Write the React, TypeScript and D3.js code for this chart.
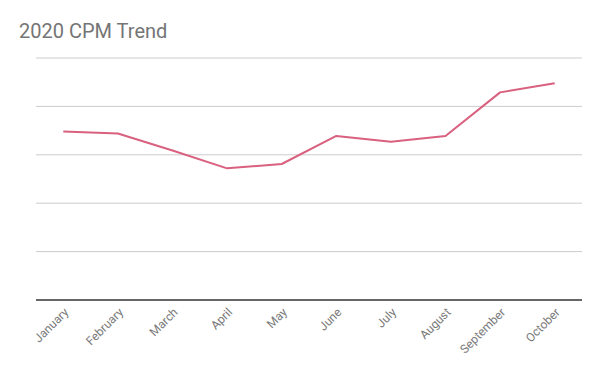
import React from "react";
import * as d3 from "d3";

const months = ["January","February","March","April","May","June","July","August","September","October"];
const cpm = [3.48, 3.44, 3.09, 2.72, 2.81, 3.39, 3.27, 3.39, 4.29, 4.48];
const yTicks = [0, 1, 2, 3, 4, 5];
const title = "2020 CPM Trend";

const W = 600, H = 371;
const M = { left: 36, right: 18, top: 58, bottom: 71 };

export default function App() {
  const x = d3.scalePoint<string>().domain(months).range([M.left, W - M.right]).padding(0.5);
  const y = d3.scaleLinear().domain([0, 5]).range([H - M.bottom, M.top]);
  const line = d3.line<number>().x((_, i) => x(months[i]) as number).y(d => y(d));
  return (
    <svg width={W} height={H} style={{ position: "absolute", left: 0, top: 0, background: "#fff" }} fontFamily="Roboto, sans-serif">
      <text x={19} y={38} fontSize={20} fill="#757575">{title}</text>
      {yTicks.slice(1).map(t => (
        <line key={t} x1={M.left} x2={W - M.right} y1={y(t)} y2={y(t)} stroke="#cccccc" strokeWidth={1} />
      ))}
      <line x1={M.left} x2={W - M.right} y1={y(0)} y2={y(0)} stroke="#333" strokeWidth={1.3} />
      <path d={line(cpm) || ""} fill="none" stroke="#d9607f" strokeWidth={2} strokeLinejoin="round" />
      {months.map(m => (
        <text key={m} transform={`translate(${(x(m) as number) + 6},${y(0) + 13}) rotate(-45)`} textAnchor="end" fontSize={12} fill="#7a7a7a">{m}</text>
      ))}
    </svg>
  );
}
